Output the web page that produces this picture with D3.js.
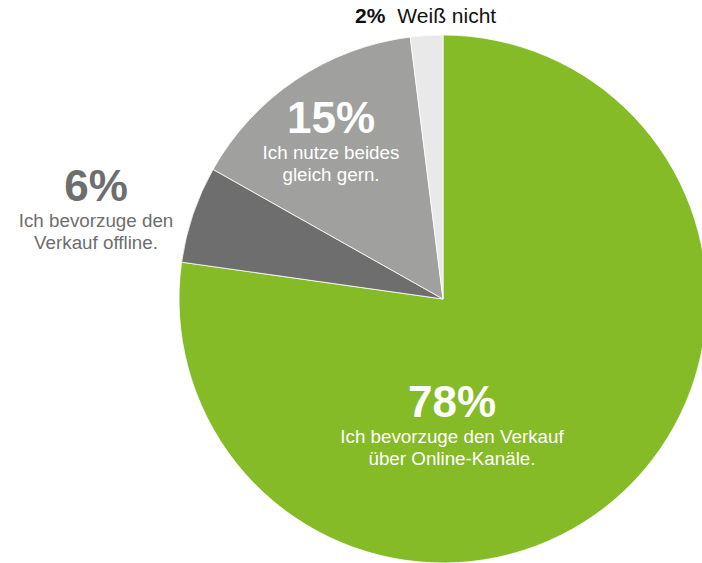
<!DOCTYPE html>
<html>
<head>
<meta charset="utf-8">
<script src="https://d3js.org/d3.v7.min.js"></script>
<style>
body { margin: 0; background: #fff; }
svg { display: block; }
text { font-family: "Liberation Sans", Arial, Helvetica, sans-serif; }
</style>
</head>
<body>
<div id="chart"></div>
<script>
var width = 702;
var height = 563;

// shares in percent, clockwise from 12 o'clock
var categories = ["online", "offline", "beides", "weissnicht"];
var values = [78, 6, 15, 2];
var pctLabels = ["78%", "6%", "15%", "2%"];
var colors = ["#85bb27", "#6e6e6e", "#a0a09f", "#e9e9e9"];

var cx = 443, cy = 299, radius = 264;

var svg = d3.select("#chart").append("svg")
  .attr("width", width).attr("height", height);

var pie = d3.pie().sort(null).value(function(d) { return d; });
var arc = d3.arc().innerRadius(0).outerRadius(radius);

var g = svg.append("g").attr("transform", "translate(" + cx + "," + cy + ")");

g.selectAll("path")
  .data(pie(values))
  .enter().append("path")
  .attr("d", arc)
  .style("fill", function(d, i) { return colors[i]; })
  .style("stroke", "#fff")
  .style("stroke-width", 0.8);

// big number + description lines
function label(x, y, pct, lines, color) {
  var t = svg.append("g").attr("transform", "translate(" + x + "," + y + ")")
    .style("fill", color).attr("text-anchor", "middle");
  t.append("text").text(pct)
    .style("font-size", "44px").style("font-weight", "bold");
  lines.forEach(function(l, i) {
    t.append("text").attr("y", 26 + i * 22).text(l)
      .style("font-size", "18.8px");
  });
}

label(452, 417, pctLabels[0], ["Ich bevorzuge den Verkauf", "über Online-Kanäle."], "#fff");
label(96, 201, pctLabels[1], ["Ich bevorzuge den", "Verkauf offline."], "#6e6e6e");
label(331, 133, pctLabels[2], ["Ich nutze beides", "gleich gern."], "#fff");

var topLabel = svg.append("text").attr("x", 355).attr("y", 23)
  .style("font-size", "21px").style("fill", "#111");
topLabel.append("tspan").text(pctLabels[3]).style("font-weight", "bold");
topLabel.append("tspan").attr("dx", 12).text("Weiß nicht");
</script>
</body>
</html>
